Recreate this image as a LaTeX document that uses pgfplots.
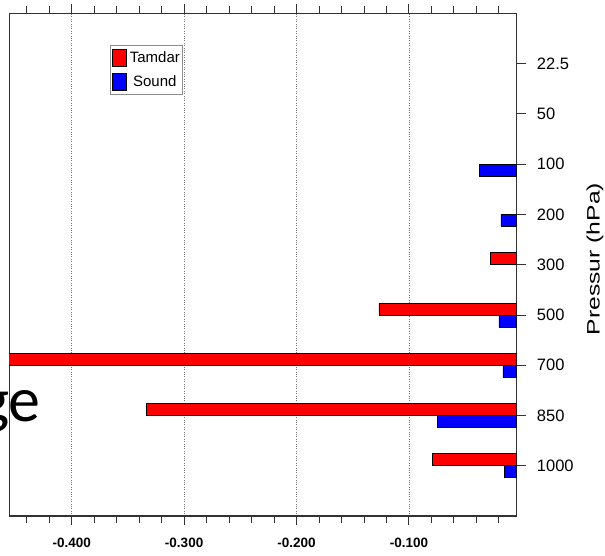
\documentclass[border=0pt]{standalone}
\usepackage{graphicx}
\usepackage{pgfplots}
\pgfplotsset{compat=1.18}
\usepackage{fontspec}
\setmainfont{Liberation Sans}
\newfontfamily\slidefont{Carlito}

\pgfplotstableread{
y v
1 -0.0795
2 -0.3335
3 -0.5000
4 -0.1267
5 -0.0275
}\tamdar
\pgfplotstableread{
y v
1 -0.0153
2 -0.0750
3 -0.0165
4 -0.0200
6 -0.0183
7 -0.0373
}\sound

\begin{document}
\begin{tikzpicture}
\path[use as bounding box] (-9.3pt,-39pt) rectangle (595.7pt,516pt);
\begin{axis}[
  at={(0pt,0pt)}, anchor=south west,
  scale only axis, width=507.4pt, height=502.5pt,
  xbar, bar width=12pt,
  xmin=-0.4555, xmax=-0.0042, ymin=0, ymax=10,
  axis line style={line width=1.1pt, black!80},
  tick style={line width=1pt, black!80},
  tick align=outside,
  major tick length=9pt, minor tick length=7pt,
  xtick={-0.4,-0.3,-0.2,-0.1},
  xticklabels={-0.400,-0.300,-0.200,-0.100},
  minor xtick={-0.44,-0.42,-0.38,-0.36,-0.34,-0.32,-0.28,-0.26,-0.24,-0.22,-0.18,-0.16,-0.14,-0.12,-0.08,-0.06,-0.04,-0.02},
  xtick pos=both, xticklabel pos=lower,
  xticklabel style={font=\fontsize{13.5}{13.5}\selectfont\bfseries, anchor=north, inner sep=0pt, yshift=-12.4pt},
  ytick={1,2,3,4,5,6,7,8,9},
  yticklabels={1000,850,700,500,300,200,100,50,22.5},
  ytick pos=right, yticklabel pos=right,
  yticklabel style={font=\fontsize{16.5}{16.5}\selectfont, anchor=west, inner sep=0pt, xshift=11pt},
  xmajorgrids, major grid style={dotted, black!55, line width=0.9pt},
  every axis y label/.style={at={(rel axis cs:1.1543,0.5114)}, anchor=center, rotate=90},
  ylabel={\fontsize{18}{18}\selectfont\scalebox{1.37}[1]{Pressur (hPa)}},
  legend cell align=center,
  legend style={at={(rel axis cs:0.1985,0.9373)}, anchor=north west, draw=black!45, line width=0.6pt,
    font=\fontsize{15}{15}\selectfont, inner xsep=2pt, inner ysep=3.5pt, row sep=6.5pt, column sep=3pt,
    nodes={inner sep=0pt}},
  legend image code/.code={\draw[#1, line width=0.5pt] (0pt,-8.5pt) rectangle (14pt,8.5pt);},
]
\addplot[fill=red, draw=black, line width=0.6pt, bar shift=6pt] table[x=v, y=y] {\tamdar};
\addlegendentry{Tamdar}
\addplot[fill=blue, draw=black, line width=0.6pt, bar shift=-6pt] table[x=v, y=y] {\sound};
\addlegendentry{Sound}
\end{axis}
\node[anchor=base east, font=\slidefont\fontsize{64}{64}\selectfont, inner sep=0pt] at (31.7pt,95pt) {ge};
\end{tikzpicture}
\end{document}
